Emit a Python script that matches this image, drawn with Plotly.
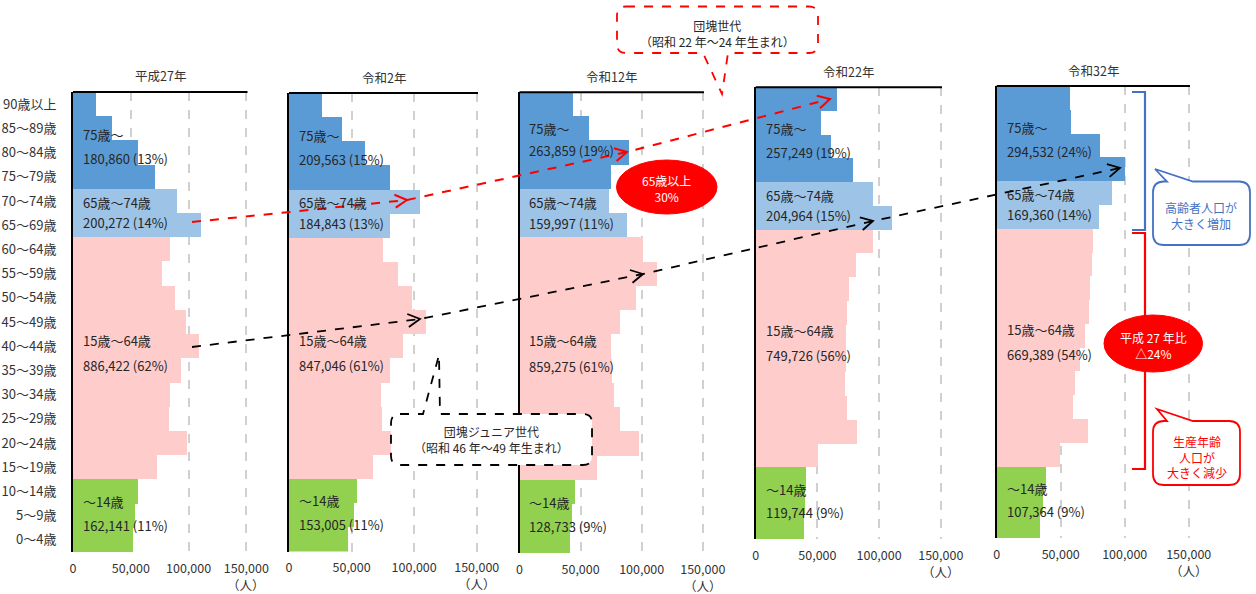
import math
import plotly.graph_objects as go

W, H = 1256, 594
FONT = "Noto Sans CJK JP"

# age groups, bottom (youngest) to top (oldest)
ages = ["0～4歳", "5～9歳", "10～14歳", "15～19歳", "20～24歳", "25～29歳",
        "30～34歳", "35～39歳", "40～44歳", "45～49歳", "50～54歳", "55～59歳",
        "60～64歳", "65～69歳", "70～74歳", "75～79歳", "80～84歳", "85～89歳",
        "90歳以上"]
years = ["平成27年", "令和2年", "令和12年", "令和22年", "令和32年"]

pop_h27 = [52300, 53800, 56000, 73000, 98300, 82900, 83800, 93400, 109100, 97700,
           87900, 76800, 83800, 110800, 89600, 71300, 56200, 33500, 19900]
pop_r2 = [46900, 52000, 54100, 67400, 91600, 74000, 73600, 80300, 91000, 109300,
          98100, 87000, 75000, 80600, 104300, 80600, 60600, 42000, 26300]
pop_r12 = [41000, 42700, 45000, 63100, 97300, 82000, 77300, 75400, 74600, 82000,
           95100, 112000, 100600, 87400, 72600, 74600, 89400, 56300, 43500]
pop_r22 = [38900, 40000, 40800, 50300, 82200, 74100, 71900, 72700, 73200, 74100,
           75000, 81400, 94700, 110300, 94700, 78500, 60400, 52300, 66000]
pop_r32 = [33600, 35600, 38200, 49400, 71300, 59700, 61300, 65100, 69000, 72100,
           72900, 73900, 74700, 79900, 89500, 100000, 80100, 57600, 56800]
populations = [pop_h27, pop_r2, pop_r12, pop_r22, pop_r32]

total_75 = [180860, 209563, 263859, 257249, 294532]
share_75 = [13, 15, 19, 19, 24]
total_65 = [200272, 184843, 159997, 204964, 169360]
share_65 = [14, 13, 11, 15, 14]
total_15 = [886422, 847046, 859275, 749726, 669389]
share_15 = [62, 61, 61, 56, 54]
total_0 = [162141, 153005, 128733, 119744, 107364]
share_0 = [11, 11, 9, 9, 9]

tick_vals = [0, 50000, 100000, 150000]
tick_text = ["0", "50,000", "100,000", "150,000"]

bar_colors = ["#92D050"] * 3 + ["#FFCCCC"] * 10 + ["#9DC3E6"] * 2 + ["#5B9BD5"] * 4

# plot areas in pixels: left, right, top, bottom
boxes = [(73, 247.5, 92, 552), (289, 478, 93, 551.5), (519.5, 704, 92.3, 553),
         (755.7, 942, 87.3, 539), (996.7, 1190, 86, 538)]


def fx(p):
    return p / W


def fy(p):
    return 1 - p / H


def pt(x, y):
    return f"{fx(x):.5f},{fy(y):.5f}"


def callout(x0, y0, x1, y1, r, side, tail):
    a, tip, b = tail
    p = f"M {pt(x0 + r, y0)} "
    if side == "top":
        p += f"L {pt(a, y0)} L {pt(*tip)} L {pt(b, y0)} "
    p += f"L {pt(x1 - r, y0)} Q {pt(x1, y0)} {pt(x1, y0 + r)} "
    p += f"L {pt(x1, y1 - r)} Q {pt(x1, y1)} {pt(x1 - r, y1)} "
    if side == "bottom":
        p += f"L {pt(b, y1)} L {pt(*tip)} L {pt(a, y1)} "
    p += f"L {pt(x0 + r, y1)} Q {pt(x0, y1)} {pt(x0, y1 - r)} "
    p += f"L {pt(x0, y0 + r)} Q {pt(x0, y0)} {pt(x0 + r, y0)} Z"
    return p


def chevron(prev, tip, L=12, w=6.5):
    dx, dy = tip[0] - prev[0], tip[1] - prev[1]
    d = math.hypot(dx, dy)
    ux, uy = dx / d, dy / d
    bx, by = tip[0] - ux * L, tip[1] - uy * L
    p1 = (bx - uy * w, by + ux * w)
    p2 = (bx + uy * w, by - ux * w)
    return f"M {pt(*p1)} L {pt(*tip)} L {pt(*p2)}"


fig = go.Figure()
shapes = []
annotations = []

for i, pop in enumerate(populations):
    n = "" if i == 0 else str(i + 1)
    x0, x1, top, bottom = boxes[i]
    fig.add_trace(go.Bar(
        x=pop, y=ages, orientation="h",
        marker=dict(color=bar_colors, line=dict(width=0)),
        width=1, xaxis="x" + n, yaxis="y" + n, showlegend=False,
        hoverinfo="x+y",
    ))
    fig.layout["xaxis" + n] = dict(
        domain=[fx(x0), fx(x1)], range=[0, 151000], anchor="y" + n,
        tickvals=tick_vals, ticktext=tick_text, showgrid=True,
        gridcolor="#d0d0d0", griddash="dash", gridwidth=1.5, zeroline=False,
        showline=False, ticks="", ticklabelstandoff=7, automargin=False,
        tickfont=dict(family=FONT, size=12.5, color="#333333"),
        fixedrange=True)
    fig.layout["yaxis" + n] = dict(
        domain=[fy(bottom), fy(top)], anchor="x" + n, type="category",
        categoryorder="array", categoryarray=ages, range=[-0.5, 18.5],
        showline=True, linecolor="black", linewidth=2, showgrid=False,
        showticklabels=(i == 0), ticks="", ticklabelstandoff=12, automargin=False,
        tickfont=dict(family=FONT, size=13, color="#333333"), fixedrange=True)
    shapes.append(dict(type="line", xref="x" + n + " domain", yref="y" + n + " domain",
                       x0=0, x1=1, y0=1, y1=1, line=dict(color="black", width=2)))
    annotations.append(dict(text=years[i], xref="x" + n + " domain", x=0.5,
                            yref="y" + n + " domain", y=1, yshift=16,
                            xanchor="center", yanchor="middle",
                            showarrow=False, font=dict(size=12.5)))
    annotations.append(dict(text="（人）", xref="x" + n, x=150000,
                            yref="y" + n + " domain", y=0, yshift=-32,
                            xanchor="center", yanchor="middle",
                            showarrow=False, font=dict(size=12.5)))
    labels = [("75歳～", 1.75), (f"{total_75[i]:,} ({share_75[i]}%)", 2.75),
              ("65歳～74歳", 4.55), (f"{total_65[i]:,} ({share_65[i]}%)", 5.4),
              ("15歳～64歳", 10.25), (f"{total_15[i]:,} ({share_15[i]}%)", 11.3),
              ("～14歳", 16.9), (f"{total_0[i]:,} ({share_0[i]}%)", 17.9)]
    if i == 2:
        labels[0] = ("75歳～", 1.5)
        labels[1] = (labels[1][0], 2.4)
    for txt, r in labels:
        annotations.append(dict(text=txt, xref="x" + n, x=6500, xanchor="left",
                                yref="y" + n + " domain", y=1 - r / 19,
                                yanchor="middle", showarrow=False,
                                font=dict(size=13, color="#262626")))

# generation arrows
red_pts = [(192, 222), (407, 200), (627, 152), (830, 99)]
black_pts = [(192, 347), (420, 319), (643, 274), (873, 221), (1120, 168)]
for pts, col, wd in [(red_pts, "#FF0000", 2), (black_pts, "black", 1.8)]:
    path = "M " + " L ".join(pt(*p) for p in pts)
    shapes.append(dict(type="path", xref="paper", yref="paper", path=path,
                       line=dict(color=col, width=wd, dash="dash")))
    for a, b in zip(pts[:-1], pts[1:]):
        shapes.append(dict(type="path", xref="paper", yref="paper",
                           path=chevron(a, b), line=dict(color=col, width=wd)))

# callout boxes
shapes.append(dict(type="path", xref="paper", yref="paper",
                   path=callout(617, 6.5, 818, 53, 9, "bottom", (703, (722, 94), 728)),
                   fillcolor="white", line=dict(color="#FF0000", width=1.8, dash="dash")))
shapes.append(dict(type="path", xref="paper", yref="paper",
                   path=callout(391, 414, 592, 465, 9, "top", (423, (439, 355), 440)),
                   fillcolor="white", line=dict(color="black", width=1.8, dash="dash")))
shapes.append(dict(type="path", xref="paper", yref="paper",
                   path=callout(1153, 181.5, 1250, 245, 11, "top", (1167, (1155, 169), 1193)),
                   fillcolor="white", line=dict(color="#4472C4", width=1.8)))
shapes.append(dict(type="path", xref="paper", yref="paper",
                   path=callout(1153, 421, 1240, 485, 11, "top", (1167, (1157, 409), 1193)),
                   fillcolor="white", line=dict(color="#FF0000", width=1.8)))

# brackets
shapes.append(dict(type="path", xref="paper", yref="paper",
                   path=f"M {pt(1132, 92)} L {pt(1145, 92)} L {pt(1145, 230)} L {pt(1132, 230)}",
                   line=dict(color="#4472C4", width=2.2)))
shapes.append(dict(type="path", xref="paper", yref="paper",
                   path=f"M {pt(1132, 233)} L {pt(1145, 233)} L {pt(1145, 469)} L {pt(1132, 469)}",
                   line=dict(color="#FF0000", width=2.2)))

# red ellipses
shapes.append(dict(type="circle", xref="paper", yref="paper",
                   x0=fx(616.5), x1=fx(717), y0=fy(214), y1=fy(160),
                   fillcolor="#FF0000", line=dict(color="#FF0000", width=1)))
shapes.append(dict(type="circle", xref="paper", yref="paper",
                   x0=fx(1104), x1=fx(1202.5), y0=fy(372), y1=fy(315),
                   fillcolor="#FF0000", line=dict(color="#FF0000", width=1)))

notes = [
    ("団塊世代<br>（昭和 22 年～24 年生まれ）", 717, 34, "#262626"),
    ("団塊ジュニア世代<br>（昭和 46 年～49 年生まれ）", 491, 439.5, "#262626"),
    ("65歳以上<br>30%", 666.7, 188, "white"),
    ("平成 27 年比<br>△24%", 1153.3, 345, "white"),
    ("高齢者人口が<br>大きく増加", 1201, 215, "#4472C4"),
    ("生産年齢<br>人口が<br>大きく減少", 1196.7, 456.7, "#FF0000"),
]
for txt, x, y, col in notes:
    annotations.append(dict(text=txt, xref="paper", yref="paper", x=fx(x), y=fy(y),
                            xanchor="center", yanchor="middle", showarrow=False,
                            font=dict(size=12, color=col)))

fig.update_layout(
    autosize=True, margin=dict(l=0, r=0, t=0, b=0, autoexpand=False),
    paper_bgcolor="white", plot_bgcolor="white",
    font=dict(family=FONT, size=12, color="#333333"),
    bargap=0, shapes=shapes, annotations=annotations, showlegend=False)

fig.write_html("out.html", default_width="100vw", default_height="100vh",
               config={"displayModeBar": False},
               post_script="document.body.style.margin='0px';"
                           "document.body.style.overflow='hidden';"
                           "Plotly.Plots.resize(document.getElementById('{plot_id}'));")
